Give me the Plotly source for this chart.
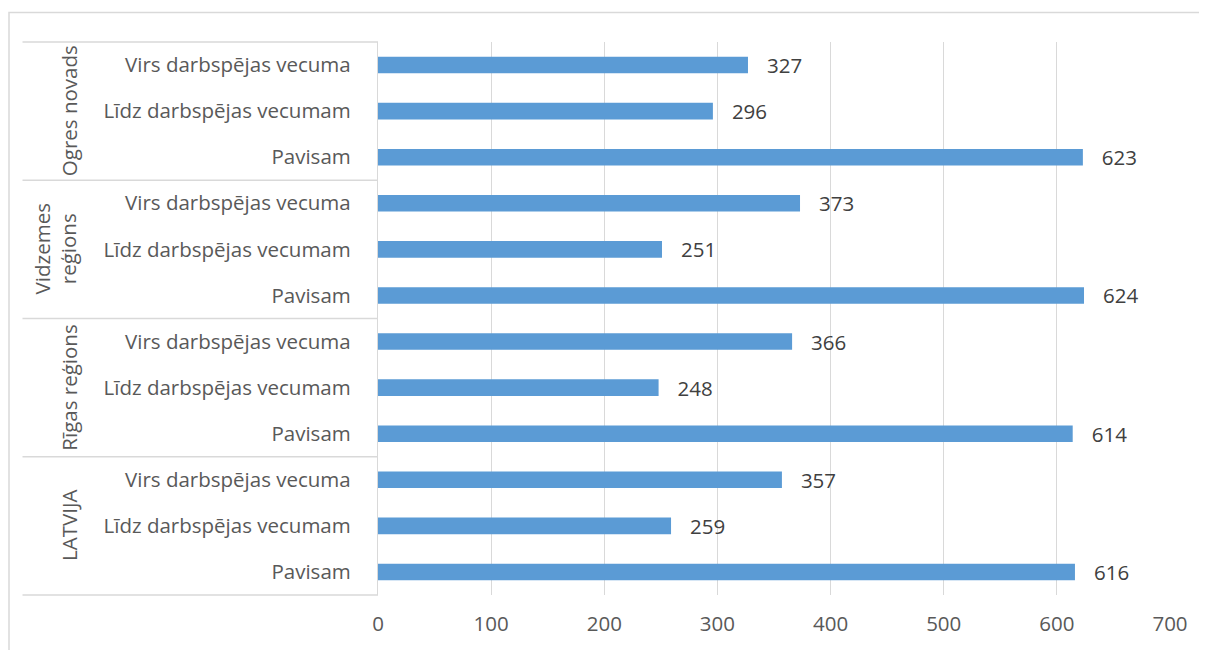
import plotly.graph_objects as go

groups = ["LATVIJA", "Rīgas reģions", "Vidzemes<br>reģions", "Ogres novads"]
subcats = ["Pavisam", "Līdz darbspējas vecumam", "Virs darbspējas vecuma"]
latvija = [616, 259, 357]
rigas = [614, 248, 366]
vidzemes = [624, 251, 373]
ogres = [623, 296, 327]
x_ticks = [0, 100, 200, 300, 400, 500, 600, 700]

series = [latvija, rigas, vidzemes, ogres]
values = [v for s in series for v in s]
labels = [c for _ in groups for c in subcats]
pos = list(range(len(values)))

OFF = 8  # page body margin
W, H = 1207 - OFF, 650 - OFF
L, R, T, B = 378 - OFF, 37, 42 - OFF, 55
pw, ph = W - L - R, H - T - B

def px_x(px):
    return (px - OFF - L) / pw

def px_y(py):
    return (H - B - (py - OFF)) / ph

TXT = "#595959"
GRID = "#D9D9D9"
FONT = "Open Sans"
FS = 20.5

fig = go.Figure(go.Bar(
    x=values, y=pos, orientation="h",
    marker=dict(color="#5B9BD5", line=dict(width=0)),
    text=["\u00a0\u00a0\u00a0" + str(v) for v in values],
    textposition="outside", cliponaxis=False, constraintext="none",
    textfont=dict(family=FONT, size=FS, color="#404040"),
    hoverinfo="skip",
))

shapes = [dict(type="rect", xref="paper", yref="paper",
               x0=px_x(9), x1=px_x(1215), y0=px_y(12.5), y1=px_y(660),
               line=dict(color=GRID, width=1.5), layer="below")]

n = len(subcats)
annotations = []
# group separators on the category axis, drawn as head-less arrows
for g in range(len(groups) + 1):
    yb = g * n - 0.5
    annotations.append(dict(text="", xref="paper", yref="y", x=0, y=yb,
                            ax=-(L - (21 - OFF)), ay=0, showarrow=True,
                            arrowhead=0, arrowwidth=1.3, arrowcolor=GRID,
                            standoff=0, startstandoff=0))
for g, name in enumerate(groups):
    xc = px_x(55) if "<br>" in name else px_x(69)
    annotations.append(dict(text=name, xref="paper", yref="y",
                            x=xc, y=g * n + (n - 1) / 2, textangle=-90,
                            showarrow=False, xanchor="center", yanchor="middle",
                            font=dict(family=FONT, size=FS, color=TXT)))

fig.update_layout(
    width=W, height=H,
    margin=dict(l=L, r=R, t=T, b=B),
    paper_bgcolor="white", plot_bgcolor="white",
    bargap=0.64, showlegend=False,
    shapes=shapes, annotations=annotations,
    font=dict(family=FONT, size=FS, color=TXT),
)
fig.update_xaxes(range=[0, 700], tickvals=x_ticks, showgrid=True,
                 gridcolor=GRID, gridwidth=1.3, zeroline=False,
                 showline=False, ticks="", ticklabelstandoff=14,
                 tickfont=dict(family=FONT, size=FS, color=TXT))
fig.update_yaxes(range=[-0.5, len(values) - 0.5], tickvals=pos, ticktext=labels,
                 showgrid=False, zeroline=False, showline=True,
                 linecolor=GRID, linewidth=1.3, ticks="",
                 ticklabelstandoff=22,
                 tickfont=dict(family=FONT, size=FS, color=TXT))

fig.write_html("out.html")
